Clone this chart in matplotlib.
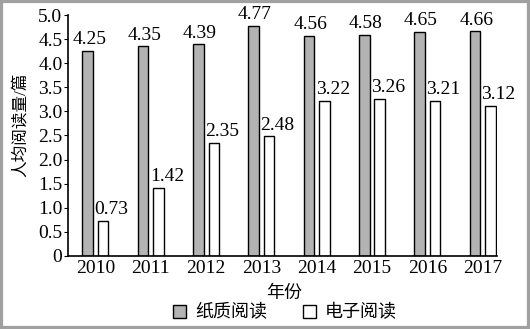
import matplotlib
matplotlib.use("Agg")
import matplotlib.pyplot as plt
from matplotlib.patches import Rectangle
import numpy as np

plt.rcParams['font.family'] = ['Liberation Serif', 'Noto Sans CJK SC']

years = ['2010', '2011', '2012', '2013', '2014', '2015', '2016', '2017']
paper = [4.25, 4.35, 4.39, 4.77, 4.56, 4.58, 4.65, 4.66]
ebook = [0.73, 1.42, 2.35, 2.48, 3.22, 3.26, 3.21, 3.12]
series_names = ['纸质阅读', '电子阅读']
yticks = [0, 0.5, 1.0, 1.5, 2.0, 2.5, 3.0, 3.5, 4.0, 4.5, 5.0]
ytick_labels = ['0', '0.5', '1.0', '1.5', '2.0', '2.5', '3.0', '3.5', '4.0', '4.5', '5.0']

fig = plt.figure(figsize=(5.3, 3.29), dpi=100)
ax = fig.add_axes([0.1283, 0.2219, 0.8094, 0.7325])

x = np.arange(len(years))
w = 0.19
off = 0.14
b1 = ax.bar(x - off, paper, w, color='#b3b3b3', edgecolor='black', linewidth=1.0, label=series_names[0])
b2 = ax.bar(x + off, ebook, w, color='white', edgecolor='black', linewidth=1.0, label=series_names[1])

for xi, v in zip(x, paper):
    ax.annotate(f'{v:.2f}', (xi - off, v), xytext=(1, 2), textcoords='offset points',
                ha='center', va='bottom', fontsize=14)
for xi, v in zip(x, ebook):
    ax.annotate(f'{v:.2f}', (xi + off, v), xytext=(6, 2), textcoords='offset points',
                ha='center', va='bottom', fontsize=14)

ax.set_xlim(-0.497, 7.26)
ax.set_ylim(0, 5.0)
ax.set_yticks(yticks)
ax.set_yticklabels(ytick_labels)
ax.set_xticks(x)
ax.set_xticklabels(years)
ax.tick_params(axis='x', length=0, labelsize=14, pad=3)
ax.tick_params(axis='y', length=3, labelsize=14, pad=1, direction='out')
for s in ['top', 'right']:
    ax.spines[s].set_visible(False)
for s in ['left', 'bottom']:
    ax.spines[s].set_linewidth(1.2)

fig.text(0.536, 1 - 293/329, '年份', ha='center', va='center', fontsize=13)
fig.text(0.040, 1 - 125/329, '人均阅读量/篇', ha='center', va='center', rotation=90, fontsize=12)

leg = fig.legend(handles=[b1, b2], labels=series_names, loc='center', bbox_to_anchor=(0.538, 1 - 313/329),
                 ncol=2, frameon=False, fontsize=13, handlelength=0.7, handleheight=0.7,
                 handletextpad=0.5, columnspacing=2.0, borderpad=0)

fig.patches.append(Rectangle((0, 0), 1, 1, transform=fig.transFigure, fill=False,
                             edgecolor='#a0a0a0', linewidth=4.5))

fig.savefig('out.png', dpi=100)
